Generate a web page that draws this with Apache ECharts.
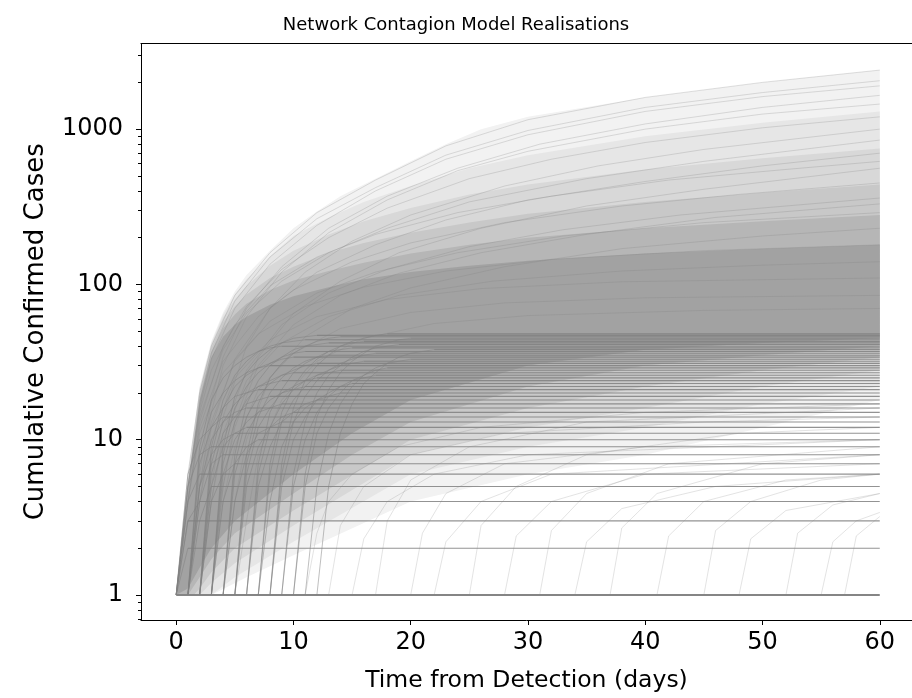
<!DOCTYPE html>
<html>
<head>
<meta charset="utf-8">
<script src="https://cdn.jsdelivr.net/npm/echarts@6/dist/echarts.min.js"></script>
<style>
html,body{margin:0;padding:0;background:#fff;}
#chart{width:912px;height:698px;}
</style>
</head>
<body>
<div id="chart"></div>
<script>
// ---- axis ticks ----
const xTicks = [0, 10, 20, 30, 40, 50, 60];
const yTicks = [1, 10, 100, 1000];
const yMinorTicks = [0.7, 0.8, 0.9, 2, 3, 4, 5, 6, 7, 8, 9, 20, 30, 40, 50, 60, 70, 80, 90,
  200, 300, 400, 500, 600, 700, 800, 900, 2000, 3000];

// ---- density envelopes of the realisation cloud (outer -> inner): [day, cases] ----
const band1Upper = [[0,1],[1,6],[2,22],[3,43],[4,66],[5,90],[6,115],[8,165],[10,230],[12,295],[14,370],[17,480],[20,620],[23,800],[26,1000],[30,1200],[40,1600],[50,2000],[60,2400]];
const band1Lower = [[0,1],[3,1],[6,1.3],[10,1.8],[20,4],[30,6],[40,8],[50,12],[60,18]];
const band2Upper = [[0,1],[1,5.8],[2,21.5],[3,42],[4,64],[5,86],[6,108],[8,152],[10,205],[13,270],[16,340],[20,430],[25,560],[30,680],[40,900],[50,1100],[60,1300]];
const band2Lower = [[0,1],[3,1],[5,1.3],[10,2.2],[20,6],[30,9],[40,12],[50,17],[60,22]];
const band3Upper = [[0,1],[1,5.5],[2,21],[3,41],[4,61],[5,80],[6,98],[8,132],[10,165],[13,210],[16,255],[20,310],[25,380],[30,440],[40,550],[50,650],[60,750]];
const band3Lower = [[0,1],[2,1],[3,1.2],[5,1.6],[10,2.8],[20,8],[30,12],[40,16],[50,22],[60,28]];
const band4Upper = [[0,1],[1,5.2],[2,20],[3,39],[4,57],[5,72],[6,86],[8,110],[10,130],[13,160],[16,185],[20,215],[25,250],[30,285],[40,340],[50,390],[60,440]];
const band4Lower = [[0,1],[1.5,1],[2,1.1],[3,1.4],[5,2],[10,3.5],[20,10],[30,16],[40,22],[50,28],[60,34]];
const band5Upper = [[0,1],[1,5],[2,19],[3,37],[4,52],[5,64],[6,75],[8,92],[10,106],[13,122],[16,138],[20,158],[25,180],[30,200],[40,230],[50,255],[60,280]];
const band5Lower = [[0,1],[1,1],[2,1.3],[3,1.7],[5,2.5],[10,4.5],[15,8],[20,13],[30,22],[40,30],[50,35],[60,40]];
const band6Upper = [[0,1],[1,4.6],[2,18],[3,34],[4,46],[5,55],[6,62],[8,74],[10,84],[13,96],[16,108],[20,120],[25,132],[30,142],[40,158],[50,170],[60,180]];
const band6Lower = [[0,1],[1,1.1],[2,1.5],[3,2],[5,3],[10,6],[15,11],[20,18],[30,30],[40,38],[50,42],[60,45]];

// ---- realisations that die out: [startDay, daily values from startDay...] (flat afterwards) ----
const extinctLow = [
  [0,1],
  [0,1,2],
  [0,1,3],
  [0,1,3,4],
  [1,1,3,5],
  [0,1,4,6],
  [2,1,4,6,7],
  [1,1,4,7,8],
  [0,1,5,8,9],
  [3,1,4,7,9,10],
  [1,1,5,8,10,11],
  [2,1,5,9,11,12],
  [4,1,4,8,11,12,13],
  [0,1,6,10,12,14],
  [5,1,5,9,12,14,15],
  [1,1,5,10,13,15,16]
];
const extinctMid = [
  [3,1,6,10,13,15,16,17],
  [6,1,5,9,13,15,17,18],
  [2,1,6,11,14,17,18,19],
  [7,1,4,9,13,16,18,19,20],
  [1,1,7,12,16,19,20,21],
  [4,1,6,11,15,18,20,21,22],
  [8,1,5,10,14,18,20,22,23],
  [2,1,7,13,17,20,22,23,24],
  [5,1,6,12,16,20,22,24,25],
  [9,1,5,10,15,19,22,24,25,26],
  [3,1,7,13,18,22,24,26,27],
  [6,1,6,12,17,21,24,26,27,28],
  [10,1,5,11,16,20,24,26,28,29],
  [1,1,8,15,20,24,27,29,30],
  [4,1,7,14,19,23,26,28,30,31],
  [7,1,6,13,18,22,26,28,30,31,32]
];
const extinctHigh = [
  [11,1,5,11,17,22,26,29,31,32,33],
  [2,1,8,16,22,26,29,31,33,34],
  [5,1,7,14,20,25,29,32,34,35],
  [8,1,6,13,19,24,28,31,33,35,36],
  [3,1,8,16,22,27,31,34,36,37],
  [12,1,5,11,17,23,27,31,34,36,37,38],
  [6,1,7,15,21,27,31,34,37,38,39],
  [1,1,9,18,25,30,34,37,39,40],
  [9,1,6,13,20,26,30,34,37,39,40,41],
  [4,1,8,17,24,30,34,38,40,41,42],
  [7,1,7,15,22,28,33,37,40,42,43],
  [2,1,9,18,26,32,37,40,42,43,44],
  [10,1,6,14,21,27,32,36,40,42,44,45],
  [5,1,8,17,25,31,36,40,43,45,46],
  [3,1,9,19,27,33,38,42,45,46,47],
  [8,1,7,16,24,30,35,40,43,45,47,48]
];

// ---- realisations that keep growing: [day, cases] ----
const growthRuns = [
  [[0,1],[1,6],[2,20],[3,40],[5,85],[8,160],[12,290],[17,470],[23,780],[30,1150],[40,1600],[50,2000],[60,2400]],
  [[0,1],[1,5],[2,17],[3,36],[5,78],[8,150],[12,265],[17,420],[23,680],[30,980],[40,1380],[50,1720],[60,2050]],
  [[0,1],[1,5],[2,16],[3,33],[5,70],[8,135],[12,240],[17,400],[23,640],[30,920],[40,1300],[50,1620],[60,1900]],
  [[1,1],[2,6],[3,18],[4,34],[6,70],[9,130],[13,230],[18,370],[24,560],[31,800],[40,1080],[50,1380],[60,1650]],
  [[1,1],[2,5],[3,15],[4,30],[6,62],[9,120],[13,215],[18,350],[24,540],[30,720],[40,1000],[50,1250],[60,1450]],
  [[0,1],[1,4],[2,13],[4,40],[6,72],[9,125],[13,200],[18,310],[25,480],[32,640],[40,820],[50,1020],[60,1200]],
  [[2,1],[3,5],[4,14],[6,40],[8,70],[11,120],[15,190],[20,280],[28,430],[36,580],[45,740],[60,1000]],
  [[0,1],[1,5],[2,14],[4,38],[6,65],[9,105],[13,160],[18,230],[25,340],[35,480],[45,620],[60,850]],
  [[1,1],[2,4],[3,12],[5,33],[8,70],[12,120],[17,180],[23,260],[30,350],[40,460],[50,580],[60,700]],
  [[0,1],[1,5],[2,15],[3,28],[5,55],[8,98],[12,150],[17,210],[24,290],[32,370],[42,470],[52,550],[60,620]],
  [[3,1],[4,5],[5,13],[7,34],[10,65],[14,105],[19,160],[26,230],[35,320],[45,410],[60,560]],
  [[0,1],[1,4],[2,12],[4,32],[7,62],[10,92],[15,140],[20,185],[28,250],[38,320],[48,380],[60,450]],
  [[2,1],[3,4],[4,11],[6,28],[9,55],[13,88],[18,125],[25,175],[33,225],[43,280],[60,360]],
  [[3,1],[4,5],[5,12],[7,30],[10,55],[14,85],[19,118],[26,160],[35,210],[46,270],[60,330]],
  [[1,1],[2,5],[3,13],[5,32],[8,58],[12,88],[17,120],[24,160],[33,205],[45,250],[60,290]],
  [[4,1],[5,4],[6,10],[8,25],[11,46],[15,70],[20,95],[28,130],[38,170],[50,205],[60,230]],
  [[0,1],[1,4],[2,11],[4,27],[7,48],[11,72],[16,96],[23,122],[32,145],[45,165],[60,180]],
  [[2,1],[3,4],[4,10],[6,24],[9,42],[13,62],[19,85],[27,105],[38,122],[50,133],[60,140]],
  [[1,1],[2,4],[3,10],[5,25],[8,44],[12,62],[18,80],[26,94],[38,104],[60,110]],
  [[3,1],[4,4],[5,9],[7,21],[10,36],[14,52],[20,66],[28,76],[40,82],[60,85]],
  [[5,1],[6,3],[7,8],[9,18],[12,32],[16,45],[22,56],[30,63],[45,68],[60,70]]
];

// ---- late-starting realisations: [day, cases] ----
const lateRuns = [
  [[11,1],[12,2.5],[13,4],[15,6],[19,9],[26,12],[40,15],[60,17]],
  [[13,1],[14,2.8],[16,5],[20,8],[28,11],[45,13],[60,14]],
  [[15,1],[16,2.3],[18,4],[22,6],[30,8],[60,10]],
  [[17,1],[18,3],[20,5.5],[25,9],[35,13],[60,16]],
  [[20,1],[21,2.5],[23,4.5],[28,7],[40,9],[60,10]],
  [[22,1],[23,2.2],[26,4],[32,6],[60,8]],
  [[25,1],[26,2.8],[29,5],[35,8],[48,11],[60,12]],
  [[28,1],[29,2.4],[32,4],[40,6],[60,7]],
  [[31,1],[32,2.6],[35,4.5],[42,7],[60,9]],
  [[34,1],[35,2.2],[38,3.6],[46,5],[60,6]],
  [[37,1],[38,2.7],[41,4.5],[50,7],[60,8]],
  [[41,1],[42,2.4],[45,4],[52,5.5],[60,6]],
  [[45,1],[46,2.6],[49,4],[55,5.5],[60,6]],
  [[48,1],[49,2.3],[52,3.5],[60,4.5]],
  [[52,1],[53,2.5],[56,3.8],[60,4.5]],
  [[55,1],[56,2.2],[58,3],[60,3.4]],
  [[57,1],[58,2.4],[60,3.2]]
];

const LAST_DAY = 60;
const FONT = 'DejaVu Sans';
const X_MIN = -3, X_MAX = 62.75;
const Y_MIN = 0.69, Y_MAX = 3560;

function bandSeries(upper, lower, color) {
  return {
    type: 'custom', silent: true, z: 1, clip: true,
    data: [[0, 1]],
    renderItem: function (params, api) {
      const pts = upper.concat(lower.slice().reverse()).map(p => api.coord(p));
      return { type: 'polygon', shape: { points: pts }, style: { fill: color } };
    }
  };
}
function lineSeries(points, color, width, z) {
  return {
    type: 'line', data: points, showSymbol: false, symbol: 'none', silent: true,
    clip: true, z: z, lineStyle: { color: color, width: width }
  };
}
// an extinct run: rising part (lighter) + flat plateau to day 60 (darker, many runs overlap)
function extinctSeries(run, isBase) {
  const start = run[0];
  const vals = run.slice(1);
  const rise = vals.map((v, i) => [start + i, v]);
  const last = rise[rise.length - 1];
  const out = [];
  if (rise.length > 1) out.push(lineSeries(rise, 'rgba(128,128,128,0.5)', 1, 3));
  out.push(lineSeries([last, [LAST_DAY, last[1]]],
    isBase ? '#858585' : 'rgba(128,128,128,0.85)', isBase ? 1.8 : 1.1, 3));
  return out;
}

const series = [];
series.push(bandSeries(band1Upper, band1Lower, '#f2f2f2'));
series.push(bandSeries(band2Upper, band2Lower, '#e6e6e6'));
series.push(bandSeries(band3Upper, band3Lower, '#d8d8d8'));
series.push(bandSeries(band4Upper, band4Lower, '#c8c8c8'));
series.push(bandSeries(band5Upper, band5Lower, '#b6b6b6'));
series.push(bandSeries(band6Upper, band6Lower, '#a2a2a2'));
lateRuns.forEach(r => series.push(lineSeries(r, 'rgba(128,128,128,0.22)', 1, 2)));
growthRuns.forEach(r => series.push(lineSeries(r, 'rgba(128,128,128,0.25)', 1, 2)));
extinctLow.concat(extinctMid, extinctHigh).forEach((r, i) =>
  extinctSeries(r, i === 0).forEach(s => series.push(s)));

const chart = echarts.init(document.getElementById('chart'), null, { renderer: 'canvas' });
chart.setOption({
  animation: false,
  backgroundColor: '#fff',
  title: {
    text: 'Network Contagion Model Realisations', left: 'center', top: 11,
    textStyle: { fontSize: 18, fontWeight: 'normal', color: '#000', fontFamily: FONT }
  },
  grid: { left: 141, right: 0, top: 43.5, bottom: 78 },
  xAxis: [{
    type: 'value', min: X_MIN, max: X_MAX, position: 'bottom',
    axisLine: { show: true, onZero: false, lineStyle: { color: '#000', width: 1 } },
    axisTick: { show: true, length: 5, lineStyle: { color: '#000', width: 1 }, customValues: xTicks },
    axisLabel: { customValues: xTicks, fontSize: 24, color: '#000', margin: 11, fontFamily: FONT },
    splitLine: { show: false },
    name: 'Time from Detection (days)', nameLocation: 'middle', nameGap: 49,
    nameTextStyle: { fontSize: 23.5, color: '#000', fontFamily: FONT }
  }, {
    type: 'value', min: X_MIN, max: X_MAX, position: 'top',
    axisLine: { show: true, onZero: false, lineStyle: { color: '#000', width: 1.2 } },
    axisTick: { show: false }, axisLabel: { show: false }, splitLine: { show: false }
  }],
  yAxis: [{
    type: 'log', logBase: 10, min: Y_MIN, max: Y_MAX, position: 'left',
    axisLine: { show: true, onZero: false, lineStyle: { color: '#000', width: 1 } },
    axisTick: { show: true, length: 5, lineStyle: { color: '#000', width: 1 }, customValues: yTicks },
    axisLabel: { customValues: yTicks, fontSize: 24, color: '#000', margin: 18, fontFamily: FONT,
      formatter: v => String(Math.round(v)) },
    splitLine: { show: false },
    name: 'Cumulative Confirmed Cases', nameLocation: 'middle', nameGap: 92, nameRotate: 90,
    nameTextStyle: { fontSize: 26, color: '#000', fontFamily: FONT }
  }, {
    type: 'log', logBase: 10, min: Y_MIN, max: Y_MAX, position: 'left', offset: 0,
    axisLine: { show: false, onZero: false },
    axisTick: { show: true, length: 3, lineStyle: { color: '#000', width: 1 }, customValues: yMinorTicks },
    axisLabel: { show: false },
    splitLine: { show: false }
  }],
  series: series
});
</script>
</body>
</html>
